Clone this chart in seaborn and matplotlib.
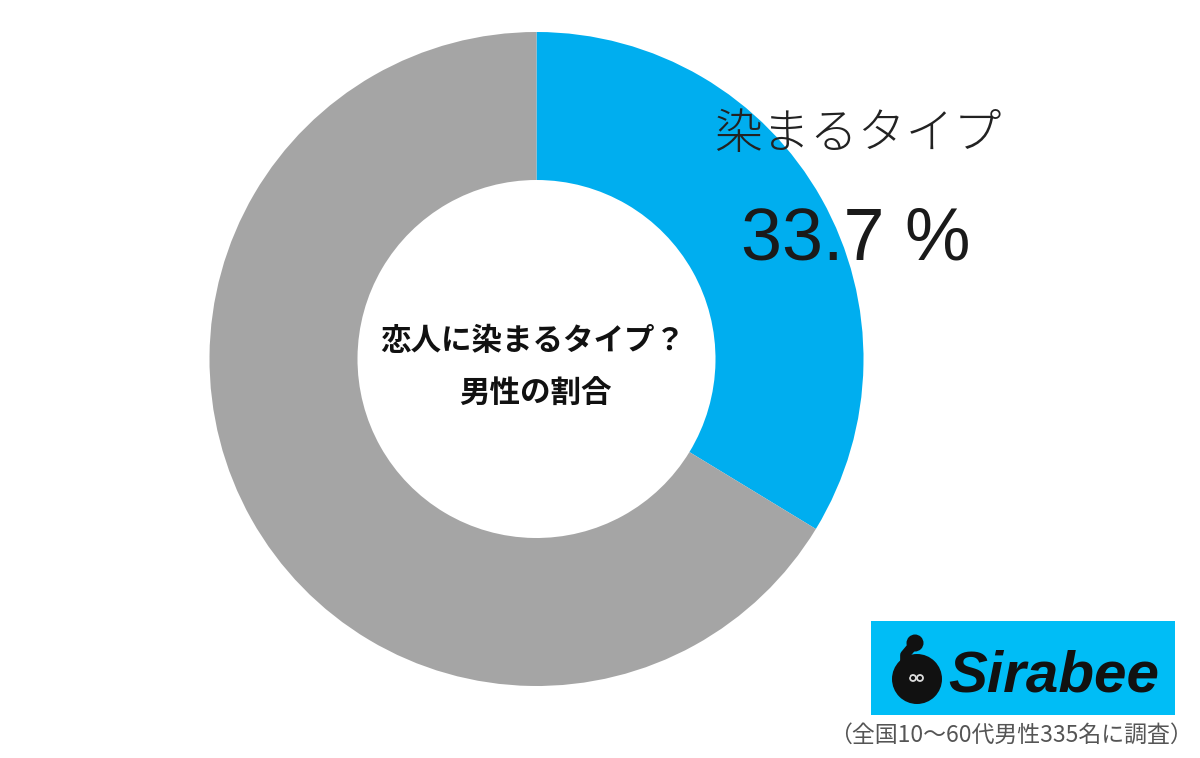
import matplotlib

matplotlib.use("Agg")
import matplotlib.pyplot as plt
from matplotlib.patches import Circle, Rectangle
import seaborn as sns

labels = ["染まるタイプ", "その他"]
values = [33.7, 66.3]
colors = ["#00AEEF", "#A5A5A5"]
center_lines = ["恋人に染まるタイプ？", "男性の割合"]
value_text = "33.7 %"
brand = "Sirabee"
note = "（全国10～60代男性335名に調査）"

sns.set_theme(style="white")
plt.rcParams["font.family"] = ["Noto Sans CJK JP", "DejaVu Sans"]

W, H = 1200, 758
fig = plt.figure(figsize=(W / 100, H / 100), dpi=100, facecolor="white")
bg = fig.add_axes([0, 0, 1, 1], zorder=0)
bg.set_xlim(0, W)
bg.set_ylim(H, 0)
bg.axis("off")

# donut centre is about (536, 359), outer radius 327
ax = fig.add_axes([(536.5 - 327) / W, 1 - (359 + 327) / H, 654 / W, 654 / H], zorder=1)
ax.pie(
    values,
    colors=colors,
    startangle=90,
    counterclock=False,
    radius=1,
    wedgeprops={"width": 1 - 179 / 327, "linewidth": 0},
)
ax.set_xlim(-1, 1)
ax.set_ylim(-1, 1)


def put_text(x, y, s, **kwargs):
    fig.text(x / W, 1 - y / H, s, ha="center", va="center", zorder=5, **kwargs)


put_text(858, 134, labels[0], fontsize=34.5, color="#222222", fontweight="light")
put_text(856, 240, value_text, fontsize=53, color="#1A1A1A",
         family=["Liberation Sans", "DejaVu Sans"])
put_text(533, 341, center_lines[0], fontsize=22, color="#111111", fontweight="bold")
put_text(535, 394, center_lines[1], fontsize=22, color="#111111", fontweight="bold")

# logo badge
bg.add_patch(Rectangle((871, 621), 304, 94, facecolor="#00BDF6", edgecolor="none"))
bg.plot([915, 905, 905], [643, 655, 675], color="#111111", lw=7, solid_capstyle="round")
bg.add_patch(Circle((915, 643), 8.5, facecolor="#111111", edgecolor="none"))
bg.add_patch(Circle((917, 679), 25, facecolor="#111111", edgecolor="none"))
bg.add_patch(Circle((913, 678), 3, facecolor="none", edgecolor="#DDDDDD", lw=1.3))
bg.add_patch(Circle((920, 678), 3, facecolor="none", edgecolor="#DDDDDD", lw=1.3))
put_text(1054, 677, brand, fontsize=42, color="#111111", fontweight="bold", fontstyle="italic",
         family=["Liberation Sans", "DejaVu Sans"])
put_text(1011, 735, note, fontsize=16.5, color="#555555")

fig.savefig("out.png", dpi=100)
plt.close(fig)
